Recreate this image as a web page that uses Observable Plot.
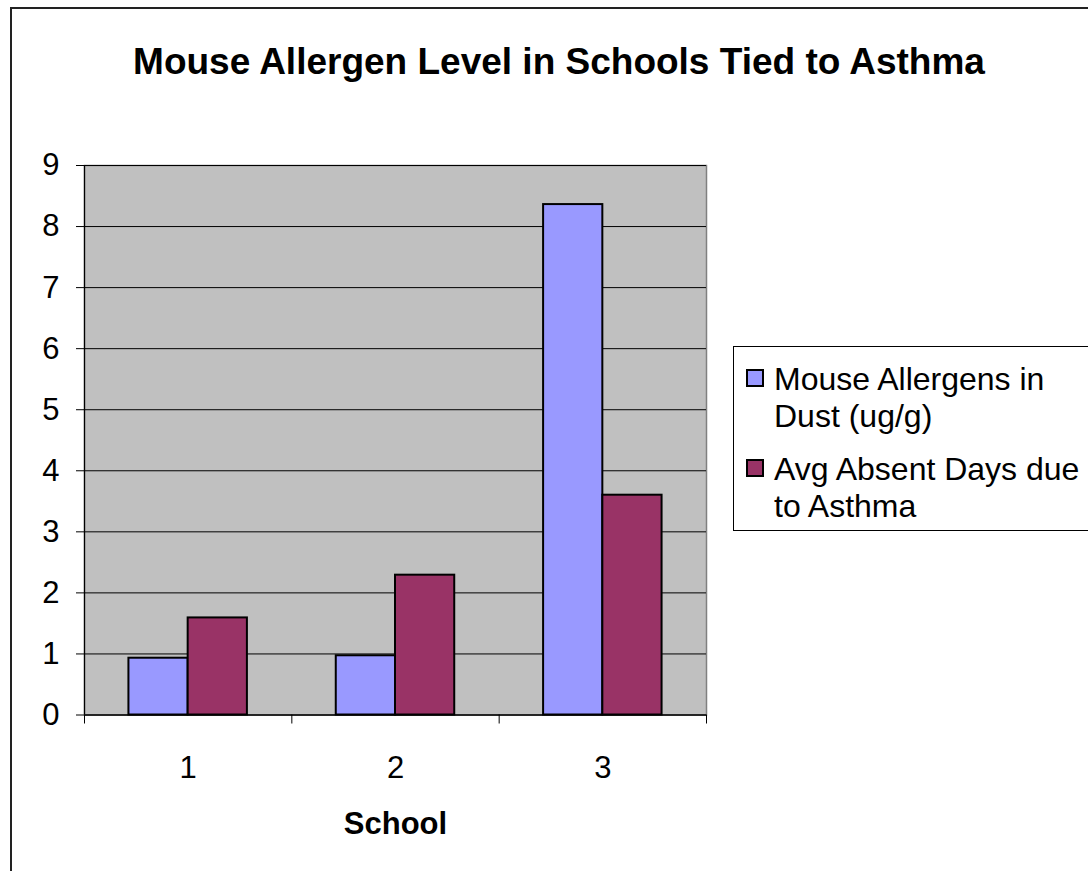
<!DOCTYPE html>
<html>
<head>
<meta charset="utf-8">
<script src="https://cdn.jsdelivr.net/npm/d3@7"></script>
<script src="https://cdn.jsdelivr.net/npm/@observablehq/plot@0.6"></script>
<style>
  html, body { margin: 0; padding: 0; background: #fff; }
  #wrap { position: relative; width: 1088px; height: 871px; overflow: hidden; background: #fff;
          font-family: "Liberation Sans", Arial, sans-serif; }
  #border { position: absolute; left: 10px; top: 7px; width: 2000px; height: 2000px;
            border-left: 2px solid #222; border-top: 2px solid #222; }
  #title { position: absolute; left: 0; width: 1118px; top: 44px; text-align: center;
           font-weight: bold; font-size: 37px; line-height: 36px; color: #000; }
  #chart { position: absolute; left: 0; top: 0; }
  #legend { position: absolute; left: 733px; top: 346px; width: 500px; height: 183px;
            border: 1px solid #000; background: #fff; }
  .item { position: absolute; left: 0; }
  .sw { position: absolute; left: 12px; width: 14px; height: 14px; border: 2px solid #000; }
  .lab { position: absolute; left: 40px; width: 330px; font-size: 32px; line-height: 36.5px; color: #000; }
</style>
</head>
<body>
<div id="wrap">
  <div id="border"></div>
  <div id="title"></div>
  <div id="chart"></div>
  <div id="legend"></div>
</div>
<script>
// ---- data ----
const chartTitle = "Mouse Allergen Level in Schools Tied to Asthma";
const xTitle = "School";
const schools = [1, 2, 3];
const seriesNames = ["Mouse Allergens in Dust (ug/g)", "Avg Absent Days due to Asthma"];
const seriesColors = ["#9999FF", "#993366"];
const allergens = [0.93, 0.97, 8.36];
const absentDays = [1.59, 2.29, 3.6];
const yTicks = [0, 1, 2, 3, 4, 5, 6, 7, 8, 9];
const xBoundaries = [0.5, 1.5, 2.5, 3.5];

// Excel-style clustered column: gap width 150% of a bar
const gapWidth = 1.5;
const barW = 1 / (seriesNames.length + gapWidth);
const seriesValues = [allergens, absentDays];

const rows = [];
seriesNames.forEach((name, s) => {
  schools.forEach((sc, i) => {
    const x1 = sc - (seriesNames.length / 2) * barW + s * barW;
    rows.push({school: sc, series: name, value: seriesValues[s][i], x1, x2: x1 + barW});
  });
});

document.getElementById("title").textContent = chartTitle;

const plot = Plot.plot({
  width: 1088,
  height: 871,
  marginLeft: 84,
  marginRight: 382,
  marginTop: 165,
  marginBottom: 156.5,
  style: {background: "transparent", fontFamily: "Liberation Sans, Arial, sans-serif", color: "#000"},
  x: {type: "linear", domain: [0.5, 3.5]},
  y: {domain: [0, 9]},
  color: {domain: seriesNames, range: seriesColors},
  marks: [
    Plot.frame({fill: "#C0C0C0", stroke: "#808080", strokeWidth: 1.5}),
    Plot.ruleY(yTicks, {stroke: "#000", strokeWidth: 1}),
    Plot.rectY(rows, {x1: "x1", x2: "x2", y: "value", fill: "series", stroke: "#000", strokeWidth: 2}),
    Plot.ruleX([0.5], {stroke: "#000", strokeWidth: 1.2}),
    Plot.ruleY([0], {stroke: "#000", strokeWidth: 1.2}),
    Plot.axisY({ticks: yTicks, tickSize: 8, tickPadding: 17, fontSize: 31, label: null, stroke: "#000"}),
    Plot.axisX({ticks: xBoundaries, tickSize: 9, tickFormat: () => "", label: null, stroke: "#000"}),
    Plot.axisX({ticks: schools, tickSize: 0, tickPadding: 41, fontSize: 31, label: null, tickFormat: d3.format("d")}),
    Plot.text([xTitle], {frameAnchor: "bottom", text: d => d, dy: 119, fontSize: 31, fontWeight: "bold", fill: "#000"})
  ]
});
document.getElementById("chart").appendChild(plot);

// ---- legend ----
const legend = document.getElementById("legend");
const itemTops = [14, 104];
seriesNames.forEach((name, s) => {
  const item = document.createElement("div");
  item.className = "item";
  item.style.top = itemTops[s] + "px";
  const sw = document.createElement("div");
  sw.className = "sw";
  sw.style.top = "8px";
  sw.style.background = seriesColors[s];
  const lab = document.createElement("div");
  lab.className = "lab";
  lab.textContent = name;
  item.appendChild(sw);
  item.appendChild(lab);
  legend.appendChild(item);
});
</script>
</body>
</html>
